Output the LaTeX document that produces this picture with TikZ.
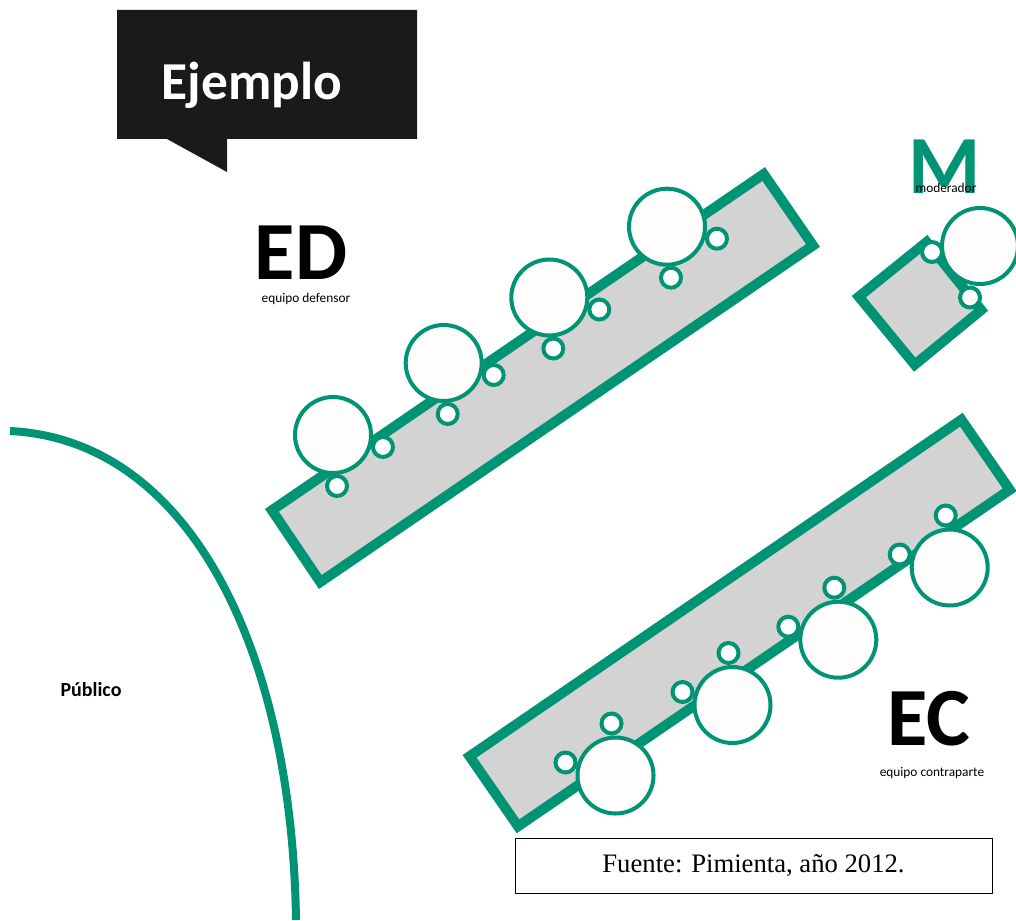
\documentclass[tikz,border=0pt]{standalone}
\usepackage{fontspec}
\setmainfont{Carlito}
\newfontfamily\fuentefont{Liberation Serif}
\usepackage{tikz}
\usetikzlibrary{positioning,calc}
\definecolor{debateGreen}{RGB}{0,148,117}
\definecolor{benchGray}{RGB}{211,211,211}
\definecolor{seatWhite}{RGB}{254,253,251}
\definecolor{calloutBlack}{RGB}{26,26,26}
\tikzstyle{bench}=[draw=debateGreen, fill=benchGray, line width=7.5pt, line join=miter]
\tikzstyle{bigseat}=[draw=debateGreen, fill=seatWhite, line width=3pt]
\tikzstyle{smallseat}=[draw=debateGreen, fill=white, line width=3pt]
\tikzstyle{teamlabel}=[font=\fontsize{62}{62}\selectfont\bfseries, anchor=base, inner sep=0pt, text depth=0pt]
\tikzstyle{teamnote}=[font=\fontsize{10}{12}\selectfont, inner sep=0pt]

\begin{document}
\begin{tikzpicture}[x=0.75pt, y=-0.75pt]
    \useasboundingbox (0,0) rectangle (1016,920);

    % Globo "Ejemplo"
    \fill[calloutBlack] (117,10) -- (417,10) -- (417,139) -- (227,139)
          -- (227,172) -- (167,139) -- (117,139) -- cycle;
    \node[font=\fontsize{40}{40}\selectfont\bfseries, text=white, anchor=base, inner sep=0pt]
          (ejemplo) at (252,100) {Ejemplo};

    % Publico
    \draw[debateGreen, line width=6pt] (10,431) .. controls (190,440) and (292,650) .. (296,920);
    \node[font=\fontsize{15}{18}\selectfont\bfseries] (publico) at (91,690) {Público};

    % Mesa equipo defensor
    \draw[bench] (271.9,510.3) -- (763.7,174) -- (813,245.5) -- (320.3,582) -- cycle;
    \foreach \cx/\cy in {333/435, 443.7/363, 549.3/297.5, 667/226.7} {
      \draw[bigseat] (\cx,\cy) circle (38);
      \draw[smallseat] (\cx+50,\cy+12) circle (10);
      \draw[smallseat] (\cx+4,\cy+51) circle (10);
    }
    \node[teamlabel] (ed) at (301,279) {ED};
    \node[teamnote] (ednote) at (306,299) {equipo defensor};

    % Mesa moderador
    \draw[bench] (858.8,296.7) -- (926.6,242) -- (981.2,310) -- (914.7,364.7) -- cycle;
    \draw[bigseat] (980,246) circle (38);
    \draw[smallseat] (932,252) circle (10);
    \draw[smallseat] (970,297.5) circle (10);
    \node[teamlabel, text=debateGreen] (mod) at (945,193) {M};
    \node[teamnote] (modnote) at (946,188) {moderador};

    % Mesa equipo contraparte
    \draw[bench] (469.6,756.3) -- (961.4,419.7) -- (1009.7,489.8) -- (518,826.3) -- cycle;
    \foreach \cx/\cy in {615.5/775.5, 732.5/705, 838.3/639.7, 949.7/567.5} {
      \draw[bigseat] (\cx,\cy) circle (38);
      \draw[smallseat] (\cx-4,\cy-52) circle (10);
      \draw[smallseat] (\cx-50,\cy-13) circle (10);
    }
    \node[teamlabel] (ec) at (929,745) {EC};
    \node[teamnote] (ecnote) at (932,773) {equipo contraparte};

    % Fuente
    \node[draw, line width=0.75pt, minimum width=357.75pt, minimum height=41.25pt,
          font=\fuentefont\fontsize{20}{24}\selectfont] (fuente) at (753.5,865.5)
          {Fuente: Pimienta, año 2012.};
  \end{tikzpicture}
\end{document}
